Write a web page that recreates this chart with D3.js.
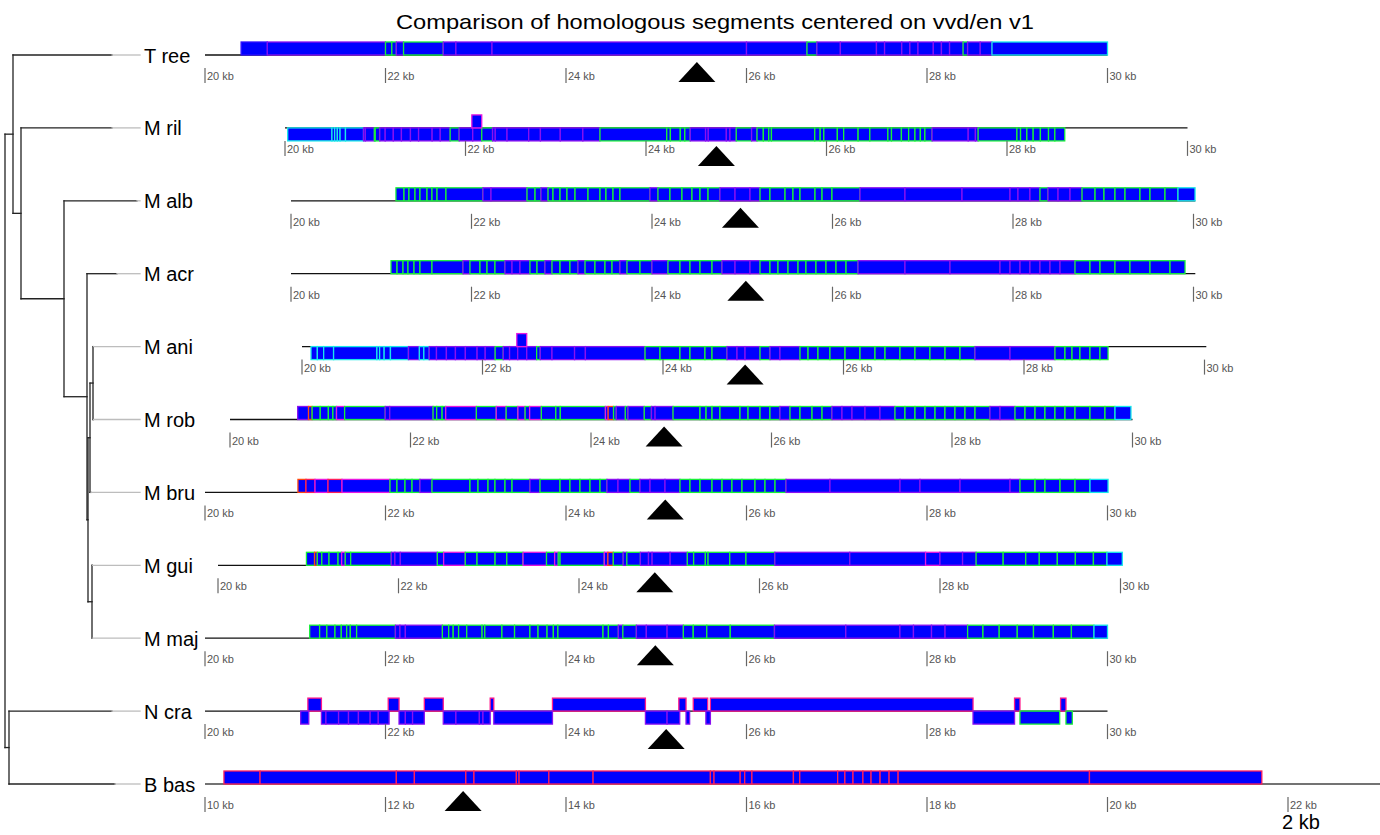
<!DOCTYPE html>
<html>
<head>
<meta charset="utf-8">
<script src="https://cdn.jsdelivr.net/npm/d3@7"></script>
<style>
  body { margin: 0; background: #fff; }
  svg { display: block; font-family: "Liberation Sans", Arial, Helvetica, sans-serif; }
</style>
</head>
<body>
<svg id="chart" width="1380" height="835"></svg>
<script>
// ---------- data ----------
const chartTitle = "Comparison of homologous segments centered on vvd/en v1";
const taxa = ["T ree", "M ril", "M alb", "M acr", "M ani", "M rob", "M bru", "M gui", "M maj", "N cra", "B bas"];
const axisStartKb = [20, 20, 20, 20, 20, 20, 20, 20, 20, 20, 10];
const axisEndKb   = [30, 30, 30, 30, 30, 30, 30, 30, 30, 30, 22];
const lineEndKb   = [30, 30, 30.02, 30.02, 30.02, 30, 30, 30, 30, 30, 23.1];
const tickStepKb = 2;
// centre of the vvd/env1 locus in each genome (kb)
const locusKb = [25.45, 24.78, 24.98, 25.04, 24.91, 24.81, 25.10, 24.84, 24.99, 25.11, 12.86];
// default strand of the homologous blocks in each genome
const rowStrand = [1, -1, 1, 1, -1, 1, 1, 1, 1, 1, 1];

// blocks: [start kb, end kb, edge colour code, optional strand]
const segTree = [
  [20.40,20.69,"b"],[20.69,22.00,"v"],[22.00,22.07,"g"],[22.07,22.12,"g"],[22.12,22.20,"v"],
  [22.20,22.64,"g"],[22.64,22.78,"v"],[22.78,23.18,"v"],[23.18,26.00,"v"],[26.00,26.67,"v"],
  [26.67,26.78,"g"],[26.78,27.04,"v"],[27.04,27.44,"v"],[27.44,27.53,"v"],[27.53,27.72,"v"],
  [27.72,27.81,"v"],[27.81,27.90,"v"],[27.90,28.07,"v"],[28.07,28.16,"v"],[28.16,28.25,"v"],
  [28.25,28.40,"v"],[28.40,28.45,"g"],[28.45,28.59,"v"],[28.59,28.72,"v"],[28.72,30.00,"c"]
];
const segMril = [
  [20.03,20.52,"c"],[20.52,20.55,"c"],[20.55,20.58,"c"],[20.58,20.61,"c"],[20.61,20.67,"c"],
  [20.67,20.87,"c"],[20.87,20.89,"v"],[20.89,20.99,"v"],[20.99,21.00,"g"],[21.00,21.05,"g"],
  [21.05,21.11,"v"],[21.11,21.20,"v"],[21.20,21.29,"v"],[21.29,21.39,"v"],[21.39,21.48,"v"],
  [21.48,21.63,"v"],[21.63,21.72,"v"],[21.72,21.83,"v"],[21.83,21.93,"g"],[21.93,22.08,"v"],
  [22.08,22.18,"v"],[22.18,22.30,"g"],[22.30,22.33,"v"],[22.33,22.46,"v"],[22.46,22.70,"v"],
  [22.70,22.83,"v"],[22.83,23.05,"v"],[23.05,23.30,"v"],[23.30,23.49,"v"],[23.49,24.23,"g"],
  [24.23,24.27,"g"],[24.27,24.38,"g"],[24.38,24.43,"g"],[24.43,24.49,"g"],[24.49,24.66,"v"],
  [24.66,24.69,"v"],[24.69,24.89,"v"],[24.89,24.93,"v"],[24.93,25.00,"v"],[25.00,25.17,"g"],
  [25.17,25.23,"v"],[25.23,25.30,"g"],[25.30,25.36,"g"],[25.36,25.39,"g"],[25.39,25.87,"g"],
  [25.87,25.93,"g"],[25.93,25.97,"g"],[25.97,26.12,"g"],[26.12,26.19,"g"],[26.19,26.35,"g"],
  [26.35,26.48,"g"],[26.48,26.68,"g"],[26.68,26.72,"g"],[26.72,26.83,"g"],[26.83,26.91,"g"],
  [26.91,26.98,"g"],[26.98,27.04,"g"],[27.04,27.09,"g"],[27.09,27.17,"g"],[27.17,27.57,"v"],
  [27.57,27.65,"v"],[27.65,27.68,"v"],[27.68,28.11,"g"],[28.11,28.15,"g"],[28.15,28.22,"g"],
  [28.22,28.29,"g"],[28.29,28.37,"g"],[28.37,28.46,"g"],[28.46,28.53,"g"],[28.53,28.64,"g"],
  [22.07,22.18,"m",1]
];
const segMalb = [
  [21.163,21.252,"g"],[21.252,21.307,"g"],[21.307,21.374,"g"],[21.374,21.429,"g"],[21.429,21.507,"g"],
  [21.507,21.562,"g"],[21.562,21.618,"g"],[21.618,21.717,"g"],[21.717,22.127,"g"],[22.127,22.216,"v"],
  [22.216,22.615,"v"],[22.615,22.704,"g"],[22.704,22.770,"g"],[22.770,22.848,"v"],[22.848,22.903,"g"],
  [22.903,22.981,"g"],[22.981,23.058,"g"],[23.058,23.147,"g"],[23.147,23.291,"g"],[23.291,23.424,"g"],
  [23.424,23.490,"g"],[23.490,23.568,"g"],[23.568,23.645,"g"],[23.645,23.978,"g"],[23.978,24.066,"v"],
  [24.066,24.199,"g"],[24.199,24.332,"g"],[24.332,24.443,"g"],[24.443,24.532,"g"],[24.532,24.621,"g"],
  [24.621,24.753,"g"],[24.753,24.920,"v"],[24.920,25.086,"v"],[25.086,25.197,"v"],[25.197,25.307,"g"],
  [25.307,25.474,"g"],[25.474,25.562,"g"],[25.562,25.640,"g"],[25.640,25.806,"g"],[25.806,25.884,"g"],
  [25.884,25.994,"g"],[25.994,26.305,"g"],[26.305,26.803,"v"],[26.803,27.435,"v"],[27.435,27.967,"v"],
  [27.967,28.055,"v"],[28.055,28.188,"v"],[28.188,28.299,"v"],[28.299,28.388,"g"],[28.388,28.499,"v"],
  [28.499,28.632,"v"],[28.632,28.765,"v"],[28.765,28.909,"g"],[28.909,29.008,"g"],[29.008,29.130,"g"],
  [29.130,29.241,"g"],[29.241,29.407,"g"],[29.407,29.518,"g"],[29.518,29.684,"g"],[29.684,29.828,"g"],
  [29.828,30.017,"c"]
];
const segMacr = [
  [21.108,21.175,"g"],[21.175,21.241,"g"],[21.241,21.296,"g"],[21.296,21.363,"g"],[21.363,21.429,"g"],
  [21.429,21.562,"g"],[21.562,21.906,"g"],[21.906,21.983,"v"],[21.983,22.094,"g"],[22.094,22.172,"g"],
  [22.172,22.260,"g"],[22.260,22.371,"g"],[22.371,22.449,"v"],[22.449,22.537,"v"],[22.537,22.648,"v"],
  [22.648,22.726,"g"],[22.726,22.814,"g"],[22.814,22.892,"v"],[22.892,22.981,"g"],[22.981,23.091,"g"],
  [23.091,23.180,"g"],[23.180,23.258,"v"],[23.258,23.368,"g"],[23.368,23.479,"g"],[23.479,23.557,"g"],
  [23.557,23.645,"g"],[23.645,23.723,"v"],[23.723,23.867,"g"],[23.867,24.000,"g"],[24.000,24.177,"v"],
  [24.177,24.310,"g"],[24.310,24.421,"g"],[24.421,24.532,"g"],[24.532,24.665,"g"],[24.665,24.776,"g"],
  [24.776,24.920,"v"],[24.920,25.086,"v"],[25.086,25.197,"v"],[25.197,25.307,"g"],[25.307,25.396,"g"],
  [25.396,25.507,"g"],[25.507,25.618,"g"],[25.618,25.706,"g"],[25.706,25.817,"g"],[25.817,25.928,"g"],
  [25.928,26.039,"g"],[26.039,26.150,"g"],[26.150,26.283,"g"],[26.283,26.803,"v"],[26.803,27.302,"v"],
  [27.302,27.856,"v"],[27.856,27.967,"v"],[27.967,28.078,"v"],[28.078,28.188,"v"],[28.188,28.299,"v"],
  [28.299,28.410,"v"],[28.410,28.521,"v"],[28.521,28.687,"v"],[28.687,28.853,"g"],[28.853,28.964,"g"],
  [28.964,29.130,"g"],[29.130,29.296,"g"],[29.296,29.518,"g"],[29.518,29.740,"g"],[29.740,29.906,"g"]
];
const segMani = [
  [20.10,20.17,"c"],[20.17,20.24,"c"],[20.24,20.35,"c"],[20.35,20.83,"c"],[20.83,20.86,"c"],
  [20.86,20.91,"c"],[20.91,20.98,"c"],[20.98,21.18,"c"],[21.18,21.30,"v"],[21.30,21.35,"c"],
  [21.35,21.41,"c"],[21.41,21.49,"v"],[21.49,21.60,"v"],[21.60,21.70,"v"],[21.70,21.81,"v"],
  [21.81,21.94,"v"],[21.94,22.03,"v"],[22.03,22.14,"v"],[22.14,22.23,"g"],[22.23,22.30,"v"],
  [22.30,22.39,"v"],[22.39,22.49,"v"],[22.49,22.60,"v"],[22.60,22.64,"g"],[22.64,22.77,"v"],
  [22.77,23.02,"v"],[23.02,23.14,"v"],[23.14,23.801,"v"],[23.801,23.967,"g"],[23.967,24.188,"g"],
  [24.188,24.299,"g"],[24.299,24.465,"g"],[24.465,24.543,"g"],[24.543,24.709,"g"],[24.709,24.820,"v"],
  [24.820,24.909,"v"],[24.909,25.075,"v"],[25.075,25.186,"g"],[25.186,25.296,"v"],[25.296,25.518,"v"],
  [25.518,25.607,"g"],[25.607,25.717,"g"],[25.717,25.850,"g"],[25.850,26.017,"g"],[26.017,26.183,"g"],
  [26.183,26.349,"g"],[26.349,26.460,"g"],[26.460,26.626,"g"],[26.626,26.792,"g"],[26.792,26.958,"g"],
  [26.958,27.125,"g"],[27.125,27.291,"g"],[27.291,27.457,"g"],[27.457,27.845,"v"],[27.845,28.343,"v"],
  [28.343,28.454,"g"],[28.454,28.532,"g"],[28.532,28.620,"g"],[28.620,28.731,"g"],[28.731,28.842,"g"],
  [28.842,28.931,"g"],
  [22.38,22.49,"m",1]
];
const segMrob = [
  [20.75,20.87,"v"],[20.87,20.91,"o"],[20.91,21.00,"g"],[21.00,21.09,"g"],[21.09,21.14,"g"],
  [21.14,21.18,"g"],[21.18,21.27,"m"],[21.27,21.72,"g"],[21.72,21.77,"v"],[21.77,22.25,"v"],
  [22.25,22.29,"g"],[22.29,22.35,"g"],[22.35,22.39,"g"],[22.39,22.73,"m"],[22.73,22.95,"g"],
  [22.95,23.06,"m"],[23.06,23.19,"g"],[23.19,23.27,"m"],[23.27,23.32,"g"],[23.32,23.45,"m"],
  [23.45,23.61,"g"],[23.61,23.66,"g"],[23.66,24.16,"g"],[24.16,24.19,"m"],[24.19,24.25,"o"],
  [24.25,24.28,"g"],[24.28,24.38,"v"],[24.38,24.41,"g"],[24.41,24.59,"v"],[24.59,24.67,"g"],
  [24.67,24.71,"v"],[24.71,24.909,"v"],[24.909,25.208,"g"],[25.208,25.275,"g"],[25.275,25.341,"g"],
  [25.341,25.429,"g"],[25.429,25.651,"g"],[25.651,25.740,"g"],[25.740,25.873,"g"],[25.873,25.983,"g"],
  [25.983,26.094,"g"],[26.094,26.205,"v"],[26.205,26.316,"g"],[26.316,26.449,"g"],[26.449,26.560,"g"],
  [26.560,26.670,"g"],[26.670,26.781,"v"],[26.781,26.892,"v"],[26.892,27.036,"v"],[27.036,27.202,"v"],
  [27.202,27.368,"v"],[27.368,27.479,"g"],[27.479,27.590,"g"],[27.590,27.701,"g"],[27.701,27.812,"g"],
  [27.812,27.922,"g"],[27.922,28.033,"g"],[28.033,28.144,"g"],[28.144,28.255,"g"],[28.255,28.421,"g"],
  [28.421,28.532,"v"],[28.532,28.698,"v"],[28.698,28.809,"g"],[28.809,28.920,"g"],[28.920,29.030,"g"],
  [29.030,29.141,"g"],[29.141,29.252,"g"],[29.252,29.363,"g"],[29.363,29.529,"g"],[29.529,29.695,"g"],
  [29.695,29.806,"g"],[29.806,29.983,"c"]
];
const segMbru = [
  [21.030,21.119,"o"],[21.119,21.219,"r"],[21.219,21.363,"m"],[21.363,21.518,"r"],[21.518,22.050,"m"],
  [22.050,22.127,"g"],[22.127,22.216,"g"],[22.216,22.294,"g"],[22.294,22.382,"g"],[22.382,22.515,"v"],
  [22.515,22.936,"g"],[22.936,23.025,"g"],[23.025,23.136,"g"],[23.136,23.213,"g"],[23.213,23.324,"g"],
  [23.324,23.402,"g"],[23.402,23.601,"g"],[23.601,23.712,"v"],[23.712,23.934,"g"],[23.934,24.044,"g"],
  [24.044,24.155,"g"],[24.155,24.266,"g"],[24.266,24.377,"g"],[24.377,24.454,"g"],[24.454,24.576,"v"],
  [24.576,24.709,"v"],[24.709,24.820,"g"],[24.820,24.931,"v"],[24.931,25.097,"v"],[25.097,25.263,"v"],
  [25.263,25.374,"g"],[25.374,25.485,"g"],[25.485,25.618,"g"],[25.618,25.729,"g"],[25.729,25.839,"g"],
  [25.839,25.950,"g"],[25.950,26.094,"g"],[26.094,26.205,"g"],[26.205,26.316,"g"],[26.316,26.438,"g"],
  [26.438,26.925,"v"],[26.925,27.701,"v"],[27.701,27.922,"v"],[27.922,28.366,"v"],[28.366,28.920,"v"],
  [28.920,29.030,"v"],[29.030,29.197,"g"],[29.197,29.307,"g"],[29.307,29.474,"g"],[29.474,29.640,"g"],
  [29.640,29.806,"g"],[29.806,30.006,"c"]
];
const segMgui = [
  [20.98,21.07,"g"],[21.07,21.10,"o"],[21.10,21.15,"g"],[21.15,21.23,"g"],[21.23,21.33,"g"],
  [21.33,21.37,"g"],[21.37,21.41,"m"],[21.41,21.47,"g"],[21.47,21.92,"g"],[21.92,21.96,"v"],
  [21.96,22.02,"v"],[22.02,22.43,"v"],[22.43,22.50,"g"],[22.50,22.74,"m"],[22.74,22.87,"g"],
  [22.87,23.07,"g"],[23.07,23.20,"g"],[23.20,23.38,"g"],[23.38,23.64,"m"],[23.64,23.73,"g"],
  [23.73,23.77,"m"],[23.77,23.79,"g"],[23.79,24.28,"g"],[24.28,24.32,"m"],[24.32,24.38,"o"],
  [24.38,24.49,"g"],[24.49,24.53,"v"],[24.53,24.68,"g"],[24.68,24.77,"v"],[24.77,24.81,"v"],
  [24.81,25.01,"v"],[25.01,25.20,"v"],[25.20,25.27,"g"],[25.27,25.40,"g"],[25.40,25.43,"g"],
  [25.43,25.67,"g"],[25.67,25.85,"g"],[25.85,26.17,"g"],[26.17,27.00,"v"],[27.00,27.84,"v"],
  [27.84,28.00,"m"],[28.00,28.25,"v"],[28.25,28.40,"v"],[28.40,28.70,"g"],[28.70,28.95,"g"],
  [28.95,29.10,"g"],[29.10,29.30,"g"],[29.30,29.50,"g"],[29.50,29.70,"g"],[29.70,29.85,"g"],
  [29.85,30.02,"c"]
];
const segMmaj = [
  [21.16,21.27,"g"],[21.27,21.35,"g"],[21.35,21.44,"g"],[21.44,21.51,"g"],[21.51,21.57,"g"],
  [21.57,21.61,"g"],[21.61,21.68,"g"],[21.68,22.11,"g"],[22.11,22.16,"v"],[22.16,22.22,"v"],
  [22.22,22.63,"v"],[22.63,22.70,"g"],[22.70,22.75,"g"],[22.75,22.81,"g"],[22.81,22.90,"g"],
  [22.90,23.07,"g"],[23.07,23.10,"g"],[23.10,23.29,"g"],[23.29,23.43,"g"],[23.43,23.60,"g"],
  [23.60,23.69,"g"],[23.69,23.79,"g"],[23.79,23.86,"g"],[23.86,23.91,"g"],[23.91,24.41,"g"],
  [24.41,24.47,"g"],[24.47,24.58,"g"],[24.58,24.63,"v"],[24.63,24.78,"g"],[24.78,24.89,"v"],
  [24.89,25.12,"v"],[25.12,25.30,"v"],[25.30,25.41,"g"],[25.41,25.56,"g"],[25.56,25.82,"g"],
  [25.82,26.31,"g"],[26.31,27.10,"v"],[27.10,27.70,"v"],[27.70,27.85,"v"],[27.85,28.05,"v"],
  [28.05,28.20,"v"],[28.20,28.45,"v"],[28.45,28.62,"g"],[28.62,28.80,"g"],[28.80,29.00,"g"],
  [29.00,29.18,"g"],[29.18,29.40,"g"],[29.40,29.60,"g"],[29.60,29.85,"g"],[29.85,30.00,"c"]
];
const segNcra = [
  [21.14,21.29,"p",1],[22.03,22.15,"p",1],[22.43,22.64,"p",1],[23.16,23.20,"p",1],[23.85,24.88,"p",1],
  [25.25,25.33,"p",1],[25.41,25.57,"p",1],[25.60,28.51,"p",1],[28.97,29.03,"p",1],[29.48,29.54,"p",1],
  [21.06,21.15,"v",-1],[21.29,21.34,"v",-1],[21.34,21.48,"v",-1],[21.48,21.59,"v",-1],[21.59,21.70,"v",-1],
  [21.70,21.83,"v",-1],[21.83,21.92,"v",-1],[21.92,22.04,"v",-1],[22.15,22.22,"v",-1],[22.22,22.30,"v",-1],
  [22.30,22.43,"v",-1],[22.64,22.78,"v",-1],[22.78,23.04,"v",-1],[23.04,23.08,"v",-1],[23.08,23.16,"v",-1],
  [23.20,23.85,"v",-1],[24.88,25.12,"v",-1],[25.12,25.26,"v",-1],[25.33,25.37,"v",-1],[25.55,25.60,"v",-1],
  [28.51,28.97,"v",-1],[29.03,29.47,"g",-1],[29.54,29.61,"g",-1]
];
const segBbas = [
  [10.21,10.61,"r"],[10.61,12.12,"r"],[12.12,12.32,"r"],[12.32,12.89,"r"],[12.89,12.98,"r"],
  [12.98,13.45,"r"],[13.45,13.48,"r"],[13.48,13.81,"r"],[13.81,14.30,"r"],[14.30,15.60,"r"],
  [15.60,15.64,"r"],[15.64,15.93,"r"],[15.93,15.98,"r"],[15.98,16.06,"r"],[16.06,16.52,"r"],
  [16.52,16.59,"r"],[16.59,17.01,"r"],[17.01,17.09,"r"],[17.09,17.18,"r"],[17.18,17.29,"r"],
  [17.29,17.38,"r"],[17.38,17.48,"r"],[17.48,17.58,"r"],[17.58,17.68,"r"],[17.68,19.80,"r"],
  [19.80,21.71,"r"]
];
const segments = [segTree, segMril, segMalb, segMacr, segMani, segMrob, segMbru, segMgui, segMmaj, segNcra, segBbas];

// species tree with branch lengths
const phylogeny = { len: 0, children: [
  { len: 8, children: [
    { name: "T ree", len: 99 },
    { len: 8, children: [
      { name: "M ril", len: 91 },
      { len: 43, children: [
        { name: "M alb", len: 73 },
        { len: 23, children: [
          { name: "M acr", len: 30 },
          { len: 1, children: [
            { len: 2, children: [
              { len: 3, children: [ { name: "M ani", len: 0.4 }, { name: "M rob", len: 0.4 } ] },
              { name: "M bru", len: 1 }
            ] },
            { len: 4, children: [ { name: "M gui", len: 0.4 }, { name: "M maj", len: 0.2 } ] }
          ] }
        ] }
      ] }
    ] }
  ] },
  { len: 4, children: [ { name: "N cra", len: 103 }, { name: "B bas", len: 106 } ] }
] };

// ---------- layout ----------
const svg = d3.select("#chart");
const edgeColour = { b: "#3010ff", v: "#8a10f0", g: "#18f038", c: "#18e8e8", m: "#e818e0",
                     p: "#ff1a8a", r: "#ff1f5a", o: "#ff4a10" };
const rowX0 = [205, 285, 291, 291, 302, 230, 205, 218, 205, 205, 205]; // pixel of first tick
const pxPerKb = 90.25;
const blockH = 13;
const rowY = d3.scaleLinear().domain([0, taxa.length - 1]).range([55, 784]);
const labelX = 144, tipGuideEnd = 140;

svg.append("text")
  .attr("x", 715).attr("y", 29)
  .attr("text-anchor", "middle")
  .attr("font-size", 21)
  .attr("textLength", 638).attr("lengthAdjust", "spacingAndGlyphs")
  .attr("fill", "#000")
  .text(chartTitle);

// ---------- tree ----------
const root = d3.hierarchy(phylogeny);
root.eachBefore(n => { n.dist = (n.parent ? n.parent.dist : 0) + (n.data.len || 0); });
const treeX = d3.scaleLinear().domain([0, 1]).range([5, 6]);
const leafIndex = new Map(taxa.map((t, i) => [t, i]));
root.eachAfter(n => {
  if (!n.children) n.ty = rowY(leafIndex.get(n.data.name));
  else n.ty = (n.children[0].ty + n.children[n.children.length - 1].ty) / 2;
});
const gTree = svg.append("g").attr("fill", "none").attr("stroke-linecap", "square");
root.descendants().forEach(n => {
  if (n.children) {
    gTree.append("line")
      .attr("x1", treeX(n.dist)).attr("x2", treeX(n.dist))
      .attr("y1", n.children[0].ty).attr("y2", n.children[n.children.length - 1].ty)
      .attr("stroke", "#222").attr("stroke-width", 1.3);
  }
  if (n.parent) {
    gTree.append("line")
      .attr("x1", treeX(n.parent.dist)).attr("x2", treeX(n.dist))
      .attr("y1", n.ty).attr("y2", n.ty)
      .attr("stroke", "#222").attr("stroke-width", 1.3);
  }
  if (!n.children) {
    gTree.append("line")
      .attr("x1", treeX(n.dist)).attr("x2", tipGuideEnd)
      .attr("y1", n.ty).attr("y2", n.ty)
      .attr("stroke", "#bdbdbd").attr("stroke-width", 1.3);
  }
});

// ---------- genome rows ----------
taxa.forEach((name, i) => {
  const y = rowY(i);
  const x = d3.scaleLinear()
    .domain([axisStartKb[i], axisEndKb[i]])
    .range([rowX0[i], rowX0[i] + pxPerKb * (axisEndKb[i] - axisStartKb[i])]);
  const g = svg.append("g");
  const segs = segments[i];
  const hasLower = segs.some(s => (s[3] !== undefined ? s[3] : rowStrand[i]) < 0);

  g.append("text")
    .attr("x", labelX).attr("y", y + 7.5)
    .attr("font-size", 20).attr("fill", "#000")
    .text(name);

  // backbone
  g.append("line")
    .attr("x1", x(axisStartKb[i])).attr("x2", Math.min(1380, x(lineEndKb[i])))
    .attr("y1", y).attr("y2", y)
    .attr("stroke", i === taxa.length - 1 ? "#444" : "#111").attr("stroke-width", 1.3);

  // homologous blocks
  g.selectAll("rect.seg")
    .data(segs)
    .join("rect")
    .attr("class", "seg")
    .attr("x", d => x(d[0]))
    .attr("width", d => Math.max(0.5, x(d[1]) - x(d[0])))
    .attr("y", d => ((d[3] !== undefined ? d[3] : rowStrand[i]) > 0 ? y - blockH : y))
    .attr("height", blockH)
    .attr("fill", "#0000ff")
    .attr("stroke", d => edgeColour[d[2]])
    .attr("stroke-width", 1.3);

  // axis ticks
  const ticks = d3.range(axisStartKb[i], axisEndKb[i] + 0.001, tickStepKb);
  const tickTop = y + 13;
  g.selectAll("line.tick").data(ticks).join("line")
    .attr("class", "tick")
    .attr("x1", d => x(d)).attr("x2", d => x(d))
    .attr("y1", tickTop).attr("y2", tickTop + 15)
    .attr("stroke", "#666").attr("stroke-width", 1.2);
  g.selectAll("text.tick").data(ticks).join("text")
    .attr("class", "tick")
    .attr("x", d => x(d) + 2).attr("y", tickTop + 12)
    .attr("font-size", 11).attr("fill", "#555")
    .text(d => d + " kb");

  // vvd/env1 locus marker
  const tipY = hasLower ? y + 18 : y + 7;
  const cx = x(locusKb[i]);
  g.append("path")
    .attr("d", `M${cx},${tipY}L${cx + 18.5},${tipY + 20}L${cx - 18.5},${tipY + 20}Z`)
    .attr("fill", "#000");
});

// scale legend
svg.append("text")
  .attr("x", 1301).attr("y", 829)
  .attr("text-anchor", "middle")
  .attr("font-size", 20).attr("fill", "#000")
  .text("2 kb");
</script>
</body>
</html>
